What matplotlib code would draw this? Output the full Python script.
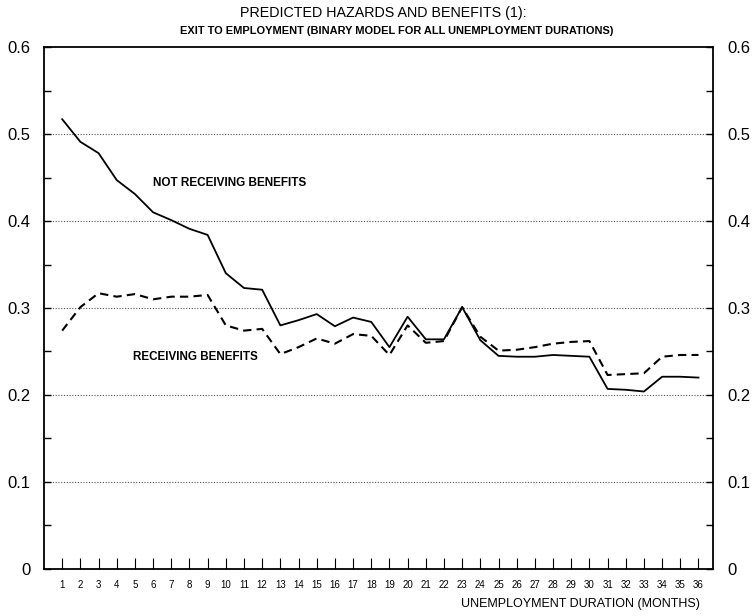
import matplotlib.pyplot as plt
import numpy as np

plt.rcParams['font.family'] = ['Liberation Sans', 'DejaVu Sans']

months = np.arange(1, 37)

# predicted exit hazard, by month of unemployment
not_receiving = [0.517, 0.491, 0.478, 0.447, 0.431, 0.410, 0.401, 0.391, 0.384,
                 0.340, 0.323, 0.321, 0.280, 0.286, 0.293, 0.279, 0.289, 0.284,
                 0.255, 0.290, 0.264, 0.264, 0.301, 0.263, 0.245, 0.244, 0.244,
                 0.246, 0.245, 0.244, 0.207, 0.206, 0.204, 0.221, 0.221, 0.220]
receiving = [0.274, 0.301, 0.317, 0.313, 0.316, 0.310, 0.313, 0.313, 0.315,
             0.280, 0.274, 0.276, 0.247, 0.255, 0.265, 0.259, 0.270, 0.268,
             0.246, 0.280, 0.260, 0.262, 0.301, 0.267, 0.251, 0.252, 0.255,
             0.259, 0.261, 0.262, 0.223, 0.224, 0.225, 0.244, 0.246, 0.246]

y_ticks = [0, 0.1, 0.2, 0.3, 0.4, 0.5, 0.6]
y_labels = ['0', '0.1', '0.2', '0.3', '0.4', '0.5', '0.6']

W, H = 755, 616
fig = plt.figure(figsize=(W / 100, H / 100), dpi=100)
ax = fig.add_axes([0.0583, 0.0763, 0.8861, 0.8474])

for y in y_ticks[1:-1]:
    ax.axhline(y, color='#555555', lw=0.8, ls=(0, (1, 1.5)), zorder=1)

ax.plot(months, not_receiving, color='black', lw=1.3, zorder=3)
ax.plot(months, receiving, color='black', lw=1.5, ls=(0, (4, 2.5)), zorder=3)

ax.set_xlim(0, 36.8)
ax.set_ylim(0, 0.6)

ax.set_xticks(months)
ax.set_xticklabels([str(m) for m in months], fontsize=7)
ax.tick_params(axis='x', direction='in', length=8, width=0.8, pad=8)

ax.set_yticks(y_ticks)
ax.set_yticklabels(y_labels, fontsize=12)
ax.set_yticks(np.arange(0.05, 0.6, 0.1), minor=True)
ax.tick_params(axis='y', which='both', direction='in', length=5, width=1,
               left=True, right=True, labelleft=True, labelright=True, pad=10)

for s in ax.spines.values():
    s.set_linewidth(1.3)

# series labels, placed in pixel coordinates from the top-left
def label(x, y, s, **kw):
    fig.text(x / W, 1 - y / H, s, **kw)

label(153, 183, 'NOT RECEIVING BENEFITS', fontsize=8.5, fontweight='bold', va='center')
label(133, 357, 'RECEIVING BENEFITS', fontsize=8.4, fontweight='bold', va='center')

label(383, 13, 'PREDICTED HAZARDS AND BENEFITS (1):', fontsize=10.3,
      ha='center', va='center')
label(397, 31, 'EXIT TO EMPLOYMENT (BINARY MODEL FOR ALL UNEMPLOYMENT DURATIONS)',
      fontsize=7.9, fontweight='bold', ha='center', va='center')
label(700, 604, 'UNEMPLOYMENT DURATION (MONTHS)', fontsize=9,
      ha='right', va='center')

fig.savefig('out.png', dpi=100)
